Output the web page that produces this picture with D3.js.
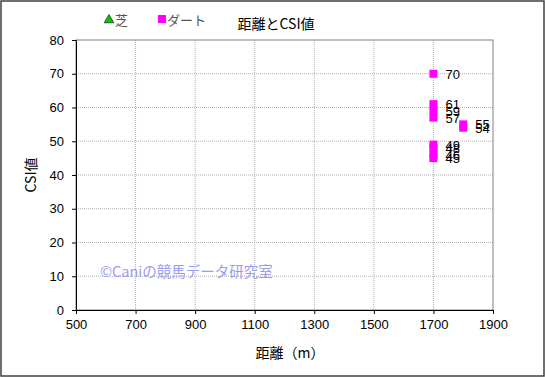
<!DOCTYPE html>
<html>
<head>
<meta charset="utf-8">
<script src="https://cdn.jsdelivr.net/npm/d3@7"></script>
<style>
  body { margin: 0; background: #fff; }
  text { font-family: "Liberation Sans", Arial, "Noto Sans CJK JP", sans-serif; }
  .jp { font-family: "Noto Sans CJK JP", sans-serif; }
</style>
</head>
<body>
<div id="chart"></div>
<script>
// data: dirt races (ダート)
const dirtDist = [1700, 1700, 1700, 1700, 1700, 1700, 1700, 1700, 1800, 1800];
const dirtCsi = [70, 61, 59, 57, 49, 48, 46, 45, 55, 54];
// turf (芝) has no points
const turfDist = [];
const turfCsi = [];

const xTicks = [500, 700, 900, 1100, 1300, 1500, 1700, 1900];
const yTicks = [0, 10, 20, 30, 40, 50, 60, 70, 80];

const W = 545, H = 377;
const plot = { left: 76, right: 493, top: 40, bottom: 310 };

const svg = d3.select("#chart").append("svg")
  .attr("width", W)
  .attr("height", H);

// outer frame
svg.append("rect")
  .attr("x", 1).attr("y", 1)
  .attr("width", W - 2).attr("height", H - 2)
  .attr("fill", "#fff")
  .attr("stroke", "#404040")
  .attr("stroke-width", 1.5);

const x = d3.scaleLinear().domain([500, 1900]).range([plot.left, plot.right]);
const y = d3.scaleLinear().domain([0, 80]).range([plot.bottom, plot.top]);

// grid lines
svg.append("g").selectAll("line").data(yTicks.slice(1, -1)).enter().append("line")
  .attr("x1", plot.left).attr("x2", plot.right)
  .attr("y1", (d) => y(d)).attr("y2", (d) => y(d))
  .attr("stroke", "#b0b0b0")
  .attr("stroke-dasharray", "1,1");

svg.append("g").selectAll("line").data(xTicks.slice(1, -1)).enter().append("line")
  .attr("y1", plot.top).attr("y2", plot.bottom)
  .attr("x1", (d) => x(d)).attr("x2", (d) => x(d))
  .attr("stroke", "#b0b0b0")
  .attr("stroke-dasharray", "1,1");

// plot border
svg.append("rect")
  .attr("x", plot.left).attr("y", plot.top)
  .attr("width", plot.right - plot.left).attr("height", plot.bottom - plot.top)
  .attr("fill", "none")
  .attr("stroke", "#808080");

// axes
const xAxis = svg.append("g")
  .attr("transform", `translate(0,${plot.bottom})`)
  .call(d3.axisBottom(x).tickValues(xTicks).tickFormat(d3.format("d")).tickSize(4).tickPadding(6));
const yAxis = svg.append("g")
  .attr("transform", `translate(${plot.left},0)`)
  .call(d3.axisLeft(y).tickValues(yTicks).tickFormat(d3.format("d")).tickSize(4).tickPadding(8));

[xAxis, yAxis].forEach((a) => {
  a.select(".domain").attr("stroke", "#000");
  a.selectAll(".tick line").attr("stroke", "#000");
  a.selectAll(".tick text")
    .attr("fill", "#000")
    .style("font-size", "13px")
    .style("font-family", "'Liberation Sans', Arial, sans-serif");
});

// watermark
svg.append("text")
  .attr("class", "jp")
  .attr("x", 100).attr("y", 277)
  .attr("fill", "#9a9cf0")
  .style("font-size", "14.5px")
  .text("©Caniの競馬データ研究室");

// turf points (triangles)
svg.append("g").selectAll("path").data(turfDist.map((d, i) => [d, turfCsi[i]])).enter().append("path")
  .attr("d", d3.symbol(d3.symbolTriangle, 50)())
  .attr("transform", (d) => `translate(${x(d[0])},${y(d[1])})`)
  .attr("fill", "#00cc00")
  .attr("stroke", "#000")
  .attr("stroke-width", 0.5);

// dirt points (squares)
const dirt = dirtDist.map((d, i) => [d, dirtCsi[i]]);
svg.append("g").selectAll("rect").data(dirt).enter().append("rect")
  .attr("x", (d) => x(d[0]) - 4)
  .attr("y", (d) => y(d[1]) - 4)
  .attr("width", 8).attr("height", 8)
  .attr("fill", "#ff00ff");

svg.append("g").selectAll("text").data(dirt).enter().append("text")
  .attr("x", (d) => x(d[0]) + 12)
  .attr("y", (d) => y(d[1]) + 5)
  .attr("fill", "#000")
  .style("font-size", "13px")
  .text((d) => d[1]);

// title
svg.append("text")
  .attr("class", "jp")
  .attr("x", 276).attr("y", 29)
  .attr("text-anchor", "middle")
  .attr("fill", "#000")
  .style("font-size", "14px")
  .text("距離とCSI値");

// legend
svg.append("path")
  .attr("d", d3.symbol(d3.symbolTriangle, 40)())
  .attr("transform", "translate(109,20)")
  .attr("fill", "#00cc00")
  .attr("stroke", "#000")
  .attr("stroke-width", 0.6);
svg.append("text")
  .attr("class", "jp")
  .attr("x", 115).attr("y", 25)
  .attr("fill", "#555")
  .style("font-size", "13px")
  .text("芝");

svg.append("rect")
  .attr("x", 158).attr("y", 15)
  .attr("width", 8).attr("height", 8)
  .attr("fill", "#ff00ff");
svg.append("text")
  .attr("class", "jp")
  .attr("x", 167).attr("y", 25)
  .attr("fill", "#555")
  .style("font-size", "13px")
  .text("ダート");

// axis titles
svg.append("text")
  .attr("class", "jp")
  .attr("x", 290).attr("y", 358)
  .attr("text-anchor", "middle")
  .attr("fill", "#000")
  .style("font-size", "14px")
  .text("距離（m）");

svg.append("text")
  .attr("class", "jp")
  .attr("transform", "translate(36,175) rotate(-90)")
  .attr("text-anchor", "middle")
  .attr("fill", "#000")
  .style("font-size", "14px")
  .text("CSI値");
</script>
</body>
</html>
